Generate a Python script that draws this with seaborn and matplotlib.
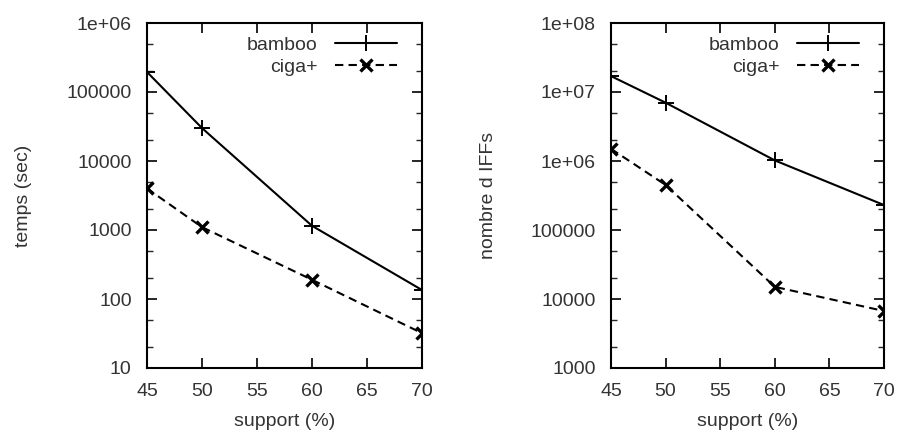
import numpy as np
import pandas as pd
import matplotlib
matplotlib.use("Agg")
import matplotlib.pyplot as plt
import matplotlib.ticker as mticker
import seaborn as sns

support = [45, 50, 60, 70]
temps_bamboo = [195000, 30000, 1150, 135]
temps_ciga = [4000, 1100, 190, 32]
iffs_bamboo = [17000000, 7000000, 1020000, 230000]
iffs_ciga = [1500000, 450000, 15000, 6700]

x_ticks = [45, 50, 55, 60, 65, 70]
left_yticks = [10, 100, 1000, 10000, 100000, 1000000]
left_ylabels = ["10", "100", "1000", "10000", "100000", "1e+06"]
right_yticks = [1000, 10000, 100000, 1000000, 10000000, 100000000]
right_ylabels = ["1000", "10000", "100000", "1e+06", "1e+07", "1e+08"]

sns.set_style("ticks")
plt.rcParams['font.family'] = ['Liberation Sans', 'DejaVu Sans']
TXT = "#333333"
FS = 14

fig = plt.figure(figsize=(9, 4.32), dpi=100)
ax1 = fig.add_axes([147/900, 1-368/432, (422-147)/900, (368-23)/432])
ax2 = fig.add_axes([611/900, 1-368/432, (884-611)/900, (368-23)/432])

def draw(ax, yb, yc, ylim, yticks, ylabels, ylabel):
    df_b = pd.DataFrame({"support": support, "val": yb})
    df_c = pd.DataFrame({"support": support, "val": yc})
    sns.lineplot(data=df_b, x="support", y="val", ax=ax, color="black", lw=1.5,
                 marker="+", markersize=12, markeredgewidth=1.4,
                 markeredgecolor="black", markerfacecolor="black", label="bamboo")
    sns.lineplot(data=df_c, x="support", y="val", ax=ax, color="black", lw=1.5,
                 marker="x", markersize=9, markeredgewidth=2.4,
                 markeredgecolor="black", markerfacecolor="black", label="ciga+",
                 linestyle=(0, (4, 2.5)))
    ax.set_yscale("log")
    ax.set_ylim(*ylim)
    ax.set_xlim(45, 70)
    ax.set_xticks(x_ticks)
    ax.set_xticklabels([str(v) for v in x_ticks])
    ax.yaxis.set_major_locator(mticker.FixedLocator(yticks))
    ax.yaxis.set_major_formatter(mticker.FixedFormatter(ylabels))
    ax.yaxis.set_minor_locator(mticker.LogLocator(base=10, subs=[2, 5], numticks=20))
    ax.yaxis.set_minor_formatter(mticker.NullFormatter())
    ax.tick_params(axis="both", which="major", direction="in", length=7, width=1.2,
                   top=True, right=True, labelsize=FS, colors="black", labelcolor=TXT)
    ax.tick_params(axis="y", which="major", pad=11)
    ax.tick_params(axis="x", which="major", pad=11)
    ax.tick_params(axis="y", which="minor", direction="in", length=4, width=1.0,
                   right=True, left=True)
    ax.tick_params(axis="x", which="minor", bottom=False, top=False)
    for s in ax.spines.values():
        s.set_visible(True)
        s.set_linewidth(1.5)
        s.set_color("black")
    ax.set_xlabel("support (%)", fontsize=FS, color=TXT)
    ax.set_ylabel(ylabel, fontsize=FS, color=TXT)
    ax.xaxis.set_label_coords(0.5, -0.13)
    ax.yaxis.set_label_coords(-0.418, 0.5)
    leg = ax.legend(loc="upper right", frameon=False, markerfirst=False, fontsize=FS,
                    handlelength=3.2, handletextpad=0.9, labelspacing=0.25,
                    borderpad=0, borderaxespad=0, bbox_to_anchor=(0.909, 0.962))
    for t in leg.get_texts():
        t.set_color(TXT)

draw(ax1, temps_bamboo, temps_ciga, (10, 1e6), left_yticks, left_ylabels, "temps (sec)")
draw(ax2, iffs_bamboo, iffs_ciga, (1000, 1e8), right_yticks, right_ylabels, "nombre d IFFs")

fig.savefig("out.png", dpi=100)
